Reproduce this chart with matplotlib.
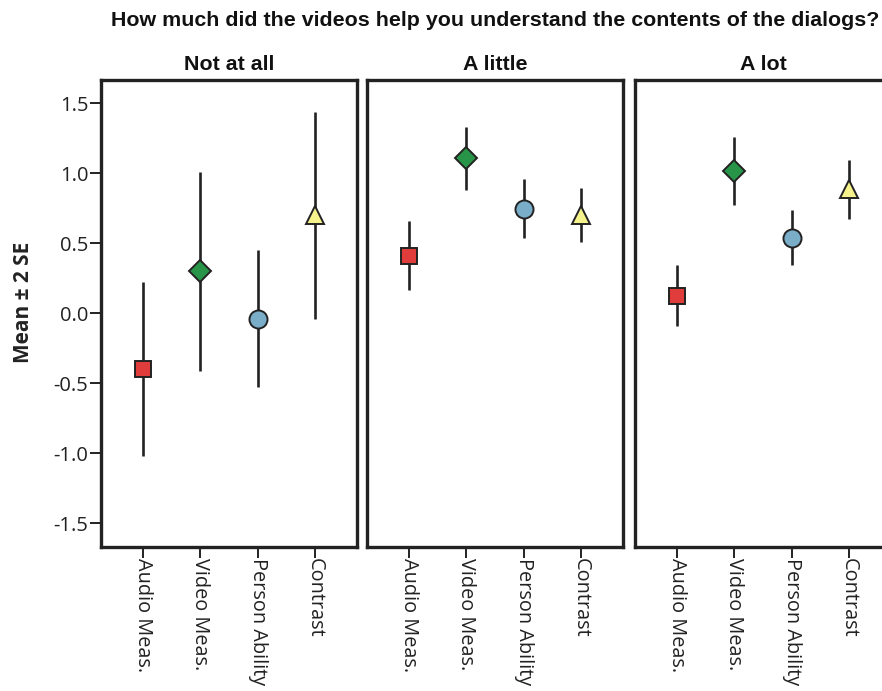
import matplotlib
matplotlib.use("Agg")
import matplotlib.pyplot as plt
import numpy as np

# Data: means and half-widths (2 SE) per response group
groups = ["Not at all", "A little", "A lot"]
measures = ["Audio Meas.", "Video Meas.", "Person Ability", "Contrast"]

means_not_at_all = [-0.40, 0.30, -0.04, 0.70]
err_not_at_all = [0.62, 0.71, 0.49, 0.74]

means_a_little = [0.41, 1.105, 0.745, 0.70]
err_a_little = [0.245, 0.225, 0.21, 0.195]

means_a_lot = [0.125, 1.012, 0.54, 0.885]
err_a_lot = [0.218, 0.243, 0.198, 0.21]

all_means = [means_not_at_all, means_a_little, means_a_lot]
all_errs = [err_not_at_all, err_a_little, err_a_lot]

yticks = [-1.5, -1.0, -0.5, 0.0, 0.5, 1.0, 1.5]
ytick_labels = ["-1.5", "-1.0", "-0.5", "0.0", "0.5", "1.0", "1.5"]

markers = ["s", "D", "o", "^"]
colors = ["#e03c3c", "#289448", "#7aaec8", "#f6f28c"]
msizes = [11.5, 11.5, 13, 13.5]

W, H = 882, 691
fig = plt.figure(figsize=(W / 100, H / 100), dpi=100)

tick_font = "Open Sans"
title_font = "Liberation Sans"

lefts = [101, 367, 635]
ax_w = 256
ax_top, ax_bot = 80, 547

for gi, (g, m, e) in enumerate(zip(groups, all_means, all_errs)):
    ax = fig.add_axes([lefts[gi] / W, (H - ax_bot) / H, ax_w / W, (ax_bot - ax_top) / H])
    x = np.arange(len(measures))
    for xi in x:
        ax.plot([xi, xi], [m[xi] - e[xi], m[xi] + e[xi]], color="#222222", lw=1.9, zorder=2,
                solid_capstyle="butt")
        ax.plot(xi, m[xi], marker=markers[xi], ms=msizes[xi], mfc=colors[xi],
                mec="#222222", mew=1.4, ls="none", zorder=3)
    ax.set_xlim(-0.73, 3.73)
    ax.set_ylim(-1.67, 1.665)
    ax.set_xticks(x)
    ax.set_xticklabels(measures, rotation=270, fontsize=14.3, family=tick_font,
                       color="#222222", ha="center", va="top")
    for sp in ax.spines.values():
        sp.set_linewidth(2.4)
        sp.set_color("#222222")
    ax.tick_params(axis="x", length=8, width=1.4, color="#222222", pad=0)
    if gi == 0:
        ax.set_yticks(yticks)
        ax.set_yticklabels(ytick_labels, fontsize=14.5, family=tick_font, color="#222222")
        ax.tick_params(axis="y", length=8, width=1.4, color="#222222", pad=1)
        ax.set_ylabel("Mean \u00b1 2 SE", fontsize=15, fontweight="bold",
                      family=tick_font, color="#222222")
        ax.yaxis.set_label_coords((34 - lefts[0]) / ax_w, (ax_bot - 302) / (ax_bot - ax_top))
    else:
        ax.set_yticks([])
    ax.set_title(g, fontsize=15.4, fontweight="bold", family=title_font,
                 color="#111111", pad=7)

fig.text(495 / W, 1 - 26 / H,
         "How much did the videos help you understand the contents of the dialogs?",
         ha="center", va="baseline", fontsize=15.4, fontweight="bold",
         family=title_font, color="#111111")

fig.savefig("out.png", dpi=100)
